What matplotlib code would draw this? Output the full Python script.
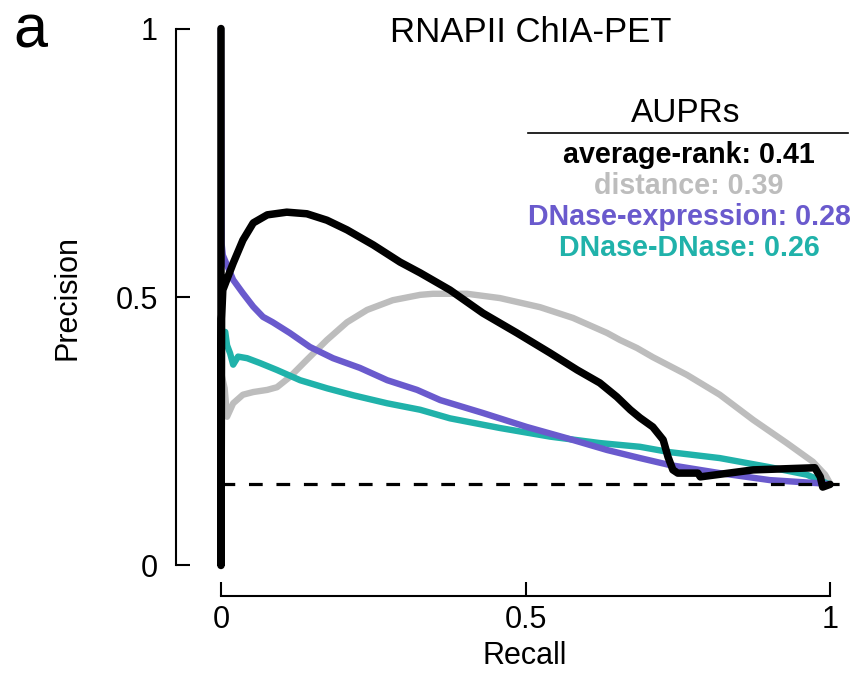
import matplotlib
matplotlib.use("Agg")
import matplotlib.pyplot as plt
from matplotlib.lines import Line2D

plt.rcParams["font.family"] = ["Liberation Sans", "DejaVu Sans"]

# precision-recall curves, one pair of arrays per method
rank_recall = [0.0, 0.0, 0.001, 0.003, 0.020, 0.036, 0.053, 0.076, 0.108, 0.141,
               0.174, 0.207, 0.250, 0.294, 0.327, 0.376, 0.430, 0.486, 0.540,
               0.585, 0.622, 0.650, 0.672, 0.688, 0.709, 0.726, 0.734, 0.742,
               0.750, 0.783, 0.787, 0.874, 0.975, 0.984, 0.988, 1.0]
rank_precision = [1.0, 0.0, 0.46, 0.513, 0.563, 0.606, 0.638, 0.653, 0.658, 0.655,
                  0.643, 0.625, 0.597, 0.565, 0.545, 0.513, 0.470, 0.433, 0.396,
                  0.364, 0.340, 0.314, 0.290, 0.275, 0.258, 0.234, 0.202, 0.178,
                  0.172, 0.172, 0.165, 0.178, 0.182, 0.165, 0.146, 0.151]

dist_recall = [0.0, 0.006, 0.010, 0.020, 0.036, 0.053, 0.076, 0.092, 0.113, 0.141,
               0.174, 0.207, 0.240, 0.282, 0.327, 0.348, 0.404, 0.458, 0.524,
               0.578, 0.634, 0.655, 0.683, 0.709, 0.765, 0.819, 0.874, 0.929,
               0.972, 0.992, 1.0]
dist_precision = [0.36, 0.33, 0.277, 0.302, 0.318, 0.323, 0.327, 0.332, 0.351, 0.383,
                  0.420, 0.453, 0.476, 0.494, 0.504, 0.506, 0.506, 0.498, 0.481,
                  0.461, 0.433, 0.420, 0.405, 0.388, 0.355, 0.318, 0.271, 0.228,
                  0.193, 0.169, 0.153]

expr_recall = [0.0, 0.001, 0.003, 0.020, 0.036, 0.053, 0.069, 0.085, 0.113, 0.146,
               0.184, 0.228, 0.273, 0.322, 0.360, 0.430, 0.502, 0.568, 0.634,
               0.688, 0.737, 0.819, 0.901, 0.984, 1.0]
expr_precision = [1.0, 0.60, 0.578, 0.532, 0.507, 0.482, 0.463, 0.453, 0.433, 0.407,
                  0.386, 0.368, 0.345, 0.327, 0.308, 0.284, 0.258, 0.237, 0.215,
                  0.200, 0.187, 0.172, 0.159, 0.153, 0.151]

dnase_recall = [0.004, 0.007, 0.010, 0.015, 0.020, 0.028, 0.043, 0.064, 0.092, 0.130,
                0.174, 0.217, 0.273, 0.327, 0.376, 0.458, 0.540, 0.622, 0.688,
                0.737, 0.819, 0.901, 0.962, 0.995, 1.0]
dnase_precision = [0.43, 0.435, 0.41, 0.395, 0.374, 0.389, 0.386, 0.377, 0.364, 0.345,
                   0.330, 0.317, 0.302, 0.290, 0.274, 0.256, 0.240, 0.228, 0.221,
                   0.211, 0.200, 0.183, 0.169, 0.153, 0.151]

baseline = 0.151

methods = ["average-rank", "distance", "DNase-expression", "DNase-DNase"]
auprs = [0.41, 0.39, 0.28, 0.26]
colors = ["black", "#bdbdbd", "#6a5acd", "#20b2aa"]

W, H = 863, 673


def fx(px):
    return px / W


def fy(py):
    return 1 - py / H


fig = plt.figure(figsize=(W / 100, H / 100), dpi=100)
ax = fig.add_axes([fx(208.8), fy(576.2), 639.5 / W, 558.4 / H])

line_kw = dict(solid_capstyle="round", solid_joinstyle="round")
ax.plot(dist_recall, dist_precision, color=colors[1], lw=4.6, **line_kw)
ax.plot(dnase_recall, dnase_precision, color=colors[3], lw=4.6, **line_kw)
ax.plot(expr_recall, expr_precision, color=colors[2], lw=4.6, **line_kw)
ax.plot(rank_recall, rank_precision, color=colors[0], lw=5.4, **line_kw)
ax.plot([0, 1.025], [baseline, baseline], color="black", lw=2.3,
        linestyle=(0, (4.3, 4.3)))

ax.set_xlim(-0.02, 1.03)
ax.set_ylim(-0.02, 1.02)

for side in ["top", "right"]:
    ax.spines[side].set_visible(False)
ax.spines["left"].set_position(("outward", 23.6))
ax.spines["bottom"].set_position(("outward", 14))
ax.spines["left"].set_bounds(0, 1)
ax.spines["bottom"].set_bounds(0, 1)
for side in ["left", "bottom"]:
    ax.spines[side].set_linewidth(1.5)

ax.set_xticks([0, 0.5, 1])
ax.set_xticklabels(["0", "0.5", "1"])
ax.set_yticks([0, 0.5, 1])
ax.set_yticklabels(["0", "0.5", "1"])
ax.tick_params(direction="in", length=10, width=1.5, labelsize=22)
ax.tick_params(axis="y", pad=13)
ax.tick_params(axis="x", pad=7)

fig.text(fx(68), fy(297), "Precision", rotation=90, fontsize=22,
         ha="center", va="center")
fig.text(fx(525), fy(656), "Recall", fontsize=22, ha="center", va="center")
fig.text(fx(531), fy(42), "RNAPII ChIA-PET", fontsize=25, ha="center",
         va="baseline")
fig.text(fx(13), fy(48), "a", fontsize=44, ha="left", va="baseline")

# AUPR summary
fig.text(fx(686), fy(122), "AUPRs", fontsize=24, ha="center", va="baseline")
fig.add_artist(Line2D([fx(528), fx(848)], [fy(133), fy(133)], lw=1.2,
                      color="black"))
for i, (name, val, col) in enumerate(zip(methods, auprs, colors)):
    fig.text(fx(689), fy(163 + 31 * i), f"{name}: {val:.2f}", fontsize=20.6,
             fontweight="bold", color=col, ha="center", va="baseline")

fig.savefig("out.png", dpi=100)
